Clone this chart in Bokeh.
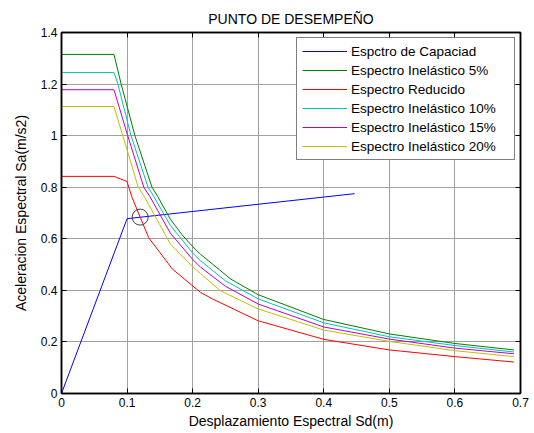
from bokeh.plotting import figure
from bokeh.models import Range1d, LinearAxis, FixedTicker, Legend, LegendItem
from bokeh.embed import file_html
from bokeh.resources import INLINE

# ---------------- data ----------------
title_text = "PUNTO DE DESEMPEÑO"
x_label = "Desplazamiento Espectral Sd(m)"
y_label = "Aceleracion Espectral Sa(m/s2)"

x_ticks = [0, 0.1, 0.2, 0.3, 0.4, 0.5, 0.6, 0.7]
x_tick_labels = ["0", "0.1", "0.2", "0.3", "0.4", "0.5", "0.6", "0.7"]
y_ticks = [0, 0.2, 0.4, 0.6, 0.8, 1.0, 1.2, 1.4]
y_tick_labels = ["0", "0.2", "0.4", "0.6", "0.8", "1", "1.2", "1.4"]

cap_sd = [0, 0.100, 0.447]
cap_sa = [0, 0.678, 0.775]

in5_sd = [0, 0.080, 0.091, 0.112, 0.138, 0.147, 0.166, 0.184, 0.200, 0.212, 0.258, 0.300, 0.400, 0.500, 0.600, 0.690]
in5_sa = [1.315, 1.315, 1.200, 1.000, 0.800, 0.763, 0.676, 0.615, 0.570, 0.540, 0.444, 0.383, 0.287, 0.231, 0.194, 0.169]

red_sd = [0, 0.080, 0.100, 0.107, 0.120, 0.133, 0.169, 0.212, 0.230, 0.300, 0.400, 0.500, 0.600, 0.690]
red_sa = [0.842, 0.842, 0.822, 0.764, 0.684, 0.604, 0.483, 0.392, 0.367, 0.282, 0.210, 0.169, 0.143, 0.122]

in10_sd = [0, 0.080, 0.086, 0.106, 0.132, 0.141, 0.166, 0.200, 0.212, 0.250, 0.300, 0.400, 0.500, 0.600, 0.690]
in10_sa = [1.245, 1.245, 1.200, 1.000, 0.800, 0.763, 0.652, 0.545, 0.515, 0.437, 0.367, 0.274, 0.220, 0.186, 0.161]

in15_sd = [0, 0.080, 0.101, 0.1255, 0.135, 0.166, 0.200, 0.212, 0.250, 0.300, 0.400, 0.500, 0.600, 0.690]
in15_sa = [1.178, 1.178, 1.000, 0.800, 0.763, 0.622, 0.520, 0.490, 0.416, 0.347, 0.258, 0.211, 0.176, 0.154]

in20_sd = [0, 0.080, 0.0935, 0.117, 0.1265, 0.166, 0.200, 0.212, 0.242, 0.300, 0.400, 0.500, 0.600, 0.690]
in20_sa = [1.113, 1.113, 1.000, 0.800, 0.763, 0.580, 0.492, 0.465, 0.399, 0.328, 0.246, 0.202, 0.166, 0.143]

pd_sd = [0.120]
pd_sa = [0.684]

series_names = ["Espctro de Capaciad", "Espectro Inelástico 5%", "Espectro Reducido",
                "Espectro Inelástico 10%", "Espectro Inelástico 15%", "Espectro Inelástico 20%"]
series_colors = ["#0000ff", "#008000", "#ff0000", "#00bfbf", "#bf00bf", "#bfbf00"]

# ---------------- figure ----------------
FONT = "Liberation Sans"

p = figure(width=534, height=433, x_range=Range1d(0, 0.7), y_range=Range1d(0, 1.4),
           output_backend="svg", toolbar_location=None,
           min_border_left=61, min_border_right=14, min_border_top=32, min_border_bottom=40)

p.background_fill_color = "white"
p.border_fill_color = "white"
p.outline_line_color = "black"
p.outline_line_width = 1.5

p.title.text = title_text
p.title.align = "center"
p.title.text_font = FONT
p.title.text_font_size = "14px"
p.title.text_font_style = "normal"
p.title.text_color = "black"
p.title.standoff = 12

for ax, ticks, labels in ((p.xaxis[0], x_ticks, x_tick_labels), (p.yaxis[0], y_ticks, y_tick_labels)):
    ax.ticker = FixedTicker(ticks=ticks)
    ax.major_label_overrides = dict(zip(ticks, labels))
    ax.major_tick_in = 5
    ax.major_tick_out = 0
    ax.minor_tick_line_color = None
    ax.axis_line_color = "black"
    ax.axis_line_width = 1.5
    ax.major_tick_line_color = "black"
    ax.major_label_text_font = FONT
    ax.major_label_text_font_size = "12px"
    ax.major_label_text_color = "black"
    ax.major_label_standoff = 4
    ax.axis_label_text_font = FONT
    ax.axis_label_text_font_size = "14px"
    ax.axis_label_text_font_style = "normal"
    ax.axis_label_text_color = "black"

p.xaxis.axis_label = x_label
p.yaxis.axis_label = y_label
p.xaxis.axis_label_standoff = 3
p.yaxis.axis_label_standoff = 9

# box ticks on top and right (no labels drawn)
top = LinearAxis(ticker=FixedTicker(ticks=x_ticks), major_label_text_font_size="1px",
                 major_label_text_color=None, major_tick_in=5, major_tick_out=0,
                 major_label_standoff=0, minor_tick_line_color=None,
                 axis_line_color="black", axis_line_width=1.5)
right = LinearAxis(ticker=FixedTicker(ticks=y_ticks), major_label_text_font_size="1px",
                   major_label_text_color=None, major_tick_in=5, major_tick_out=0,
                   major_label_standoff=0, minor_tick_line_color=None,
                   axis_line_color="black", axis_line_width=1.5)
p.add_layout(top, "above")
p.add_layout(right, "right")

p.xgrid.ticker = FixedTicker(ticks=x_ticks)
p.ygrid.ticker = FixedTicker(ticks=y_ticks)
p.grid.grid_line_color = "#a0a0a0"
p.grid.grid_line_width = 1

all_sd = [cap_sd, in5_sd, red_sd, in10_sd, in15_sd, in20_sd]
all_sa = [cap_sa, in5_sa, red_sa, in10_sa, in15_sa, in20_sa]

items = []
for name, color, xs, ys in zip(series_names, series_colors, all_sd, all_sa):
    r = p.line(xs, ys, line_color=color, line_width=1)
    items.append(LegendItem(label=name, renderers=[r]))

p.scatter(pd_sd, pd_sa, marker="circle", size=16, fill_color=None,
          line_color="#404040", line_width=1)

legend = Legend(items=items, location="top_right", margin=5, padding=5, spacing=3,
                label_height=16, glyph_height=16, glyph_width=45, label_standoff=4,
                label_width=158, label_text_font=FONT, label_text_font_size="13.5px",
                label_text_color="black", border_line_color="black", border_line_width=1,
                background_fill_color="white", background_fill_alpha=1)
p.add_layout(legend)

open("out.html", "w").write(file_html(p, INLINE))
